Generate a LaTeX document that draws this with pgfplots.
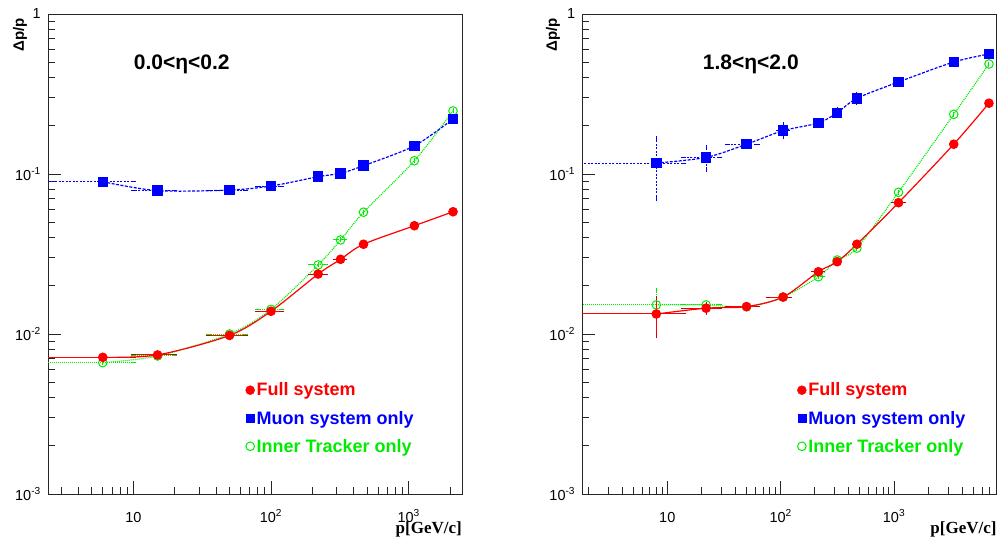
\documentclass[border=0pt]{standalone}
\usepackage{fontspec}
\setmainfont{Liberation Sans}
\newfontfamily\serifbf{Liberation Serif}
\usepackage{pgfplots}
\pgfplotsset{compat=1.18}
\usepackage{pgfplotstable}

\definecolor{rred}{RGB}{255,0,0}
\definecolor{rblue}{RGB}{0,0,255}
\definecolor{rgreen}{RGB}{0,235,0}

% ---------------- left panel: 0.0<eta<0.2
\pgfplotstableread{
x y exm exp eym eyp
6 0.00715 4 4 0 0
15 0.0074 5 5 0 0
50 0.0098 15 15 0 0
100 0.01387 20 20 0 0
220 0.0237 27 27 0 0
320 0.0293 24 24 0 0
470 0.0364 0 0 0 0
1100 0.0475 0 0 0 0
2100 0.0581 0 0 0 0
}\Lred
\pgfplotstableread{
x y exm exp eym eyp
6 0.00662 4 4 0 0
15 0.00729 5 5 0 0
50 0.0100 15 15 0 0
100 0.01425 20 20 0 0
220 0.027 27 27 0 0
320 0.0387 24 24 0 0
470 0.0577 0 0 0 0
1100 0.121 0 0 0 0
2100 0.248 0 0 0 0
}\Lgreen
\pgfplotstableread{
x y exm exp eym eyp
6 0.0895 4 4 0 0
15 0.0787 5 5 0 0
50 0.0794 15 15 0 0
100 0.0841 20 20 0 0
220 0.0962 0 0 0 0
320 0.101 0 0 0 0
470 0.1127 0 0 0 0
1100 0.150 0 0 0 0
2100 0.221 0 0 0 0
}\Lblue
% ---------------- right panel: 1.8<eta<2.0
\pgfplotstableread{
x y exm exp eym eyp
8 0.01334 6.5 6 0.0036 0.0034
22 0.0145 8 7 0.0008 0.0008
50 0.01483 16 13 0 0
105 0.01702 27 15 0 0
215 0.0245 20 20 0 0
315 0.0283 0 0 0 0
470 0.0364 0 0 0 0
1095 0.0662 115 120 0 0
3360 0.1535 0 0 0 0
6870 0.277 0 0 0 0
}\Rred
\pgfplotstableread{
x y exm exp eym eyp
8 0.0152 6.5 6 0.0038 0.0036
22 0.0152 8 7 0 0
50 0.0148 16 13 0 0
105 0.0170 27 15 0 0
215 0.0228 20 20 0 0
315 0.029 0 0 0 0
470 0.0344 0 0 0 0
1095 0.0769 0 0 0 0
3360 0.236 0 0 0 0
6870 0.487 0 0 0 0
}\Rgreen
\pgfplotstableread{
x y exm exp eym eyp
8 0.117 6.5 6 0.047 0.05
22 0.127 8 7 0.02 0.019
50 0.1535 16 13 0 0
105 0.1866 10 10 0.016 0.016
215 0.2084 0 0 0 0
315 0.2415 0 0 0.01 0.01
470 0.297 0 0 0.018 0.018
1095 0.376 0 0 0 0
3360 0.501 0 0 0 0
6870 0.562 0 0 0 0
}\Rblue

\begin{document}
\begin{tikzpicture}
\path[use as bounding box] (0pt,0pt) rectangle (1000pt,538pt);

\begin{axis}[at={(48pt,44pt)}, anchor=south west,
  xmode=log, ymode=log, scale only axis, width=414pt, height=480pt,
  xmin=2.4, xmax=2440, ymin=1e-3, ymax=1,
  axis line style={black!85, line width=1pt},
  tick align=inside, tick pos=left,
  major tick length=13pt, minor tick length=7pt,
  every tick/.style={black!85, line width=0.9pt},
  xtick={10,100,1000}, xticklabels={10,10\textsuperscript{2},10\textsuperscript{3}},
  minor xtick={2,3,4,5,6,7,8,9,20,30,40,50,60,70,80,90,200,300,400,500,600,700,800,900,2000,3000,4000,5000,6000,7000,8000,9000},
  ytick={0.001,0.01,0.1,1}, yticklabels={10\textsuperscript{-3},10\textsuperscript{-2},10\textsuperscript{-1},1},
  minor ytick={0.002,0.003,0.004,0.005,0.006,0.007,0.008,0.009,0.02,0.03,0.04,0.05,0.06,0.07,0.08,0.09,0.2,0.3,0.4,0.5,0.6,0.7,0.8,0.9},
  xticklabel style={font=\fontsize{14.5}{16}\selectfont, anchor=base, yshift=-28pt, inner sep=0pt},
  yticklabel style={font=\fontsize{14.5}{16}\selectfont, anchor=east, xshift=-7pt, inner sep=0pt},
  legend style={draw=none, fill=none, at={(0.477,0.236)}, anchor=north west,
    font=\fontsize{18}{21}\selectfont\bfseries, row sep=9.5pt, inner sep=0pt},
  legend cell align=left,
  error bars/x dir=both, error bars/x explicit, error bars/y dir=both, error bars/y explicit,
  ]
\addplot[forget plot, rgreen, line width=1.2pt, dash pattern=on 1pt off 1pt, smooth, mark=o, mark size=4.3pt, mark options={solid, line width=1pt},
  error bars/error bar style={rgreen, line width=1pt, dash pattern=on 1pt off 1pt},
  error bars/error mark options={rgreen, solid, line width=1pt, mark size=2.5pt}]
  table[x=x, y=y, x error minus=exm, x error plus=exp, y error minus=eym, y error plus=eyp] {\Lgreen};
\addplot[forget plot, rblue, line width=1.2pt, dash pattern=on 3pt off 1.5pt, smooth, mark=square*, mark size=4.6pt, mark options={solid, fill=rblue},
  error bars/error bar style={rblue, line width=1pt, dash pattern=on 2pt off 1.5pt},
  error bars/error mark options={rblue, solid, line width=1pt, mark size=2.5pt}]
  table[x=x, y=y, x error minus=exm, x error plus=exp, y error minus=eym, y error plus=eyp] {\Lblue};
\addplot[forget plot, rred, line width=1.2pt, smooth, mark=*, mark size=4.2pt, mark options={solid, fill=rred},
  error bars/error bar style={rred, line width=1pt, solid},
  error bars/error mark options={rred!80!black, solid, line width=1pt, mark size=2.5pt}]
  table[x=x, y=y, x error minus=exm, x error plus=exp, y error minus=eym, y error plus=eyp] {\Lred};
\addlegendimage{only marks, mark=*, mark size=4.5pt, rred, fill=rred}
\addlegendentry{\textcolor{rred}{Full system}}
\addlegendimage{only marks, mark=square*, mark size=4pt, rblue, fill=rblue}
\addlegendentry{\textcolor{rblue}{Muon system only}}
\addlegendimage{only marks, mark=o, mark size=4.3pt, rgreen, line width=1pt}
\addlegendentry{\textcolor{rgreen}{Inner Tracker only}}
\end{axis}

\begin{axis}[at={(582.3pt,44pt)}, anchor=south west,
  xmode=log, ymode=log, scale only axis, width=414pt, height=480pt,
  xmin=1.78, xmax=7980, ymin=1e-3, ymax=1,
  axis line style={black!85, line width=1pt},
  tick align=inside, tick pos=left,
  major tick length=13pt, minor tick length=7pt,
  every tick/.style={black!85, line width=0.9pt},
  xtick={10,100,1000}, xticklabels={10,10\textsuperscript{2},10\textsuperscript{3}},
  minor xtick={2,3,4,5,6,7,8,9,20,30,40,50,60,70,80,90,200,300,400,500,600,700,800,900,2000,3000,4000,5000,6000,7000,8000,9000},
  ytick={0.001,0.01,0.1,1}, yticklabels={10\textsuperscript{-3},10\textsuperscript{-2},10\textsuperscript{-1},1},
  minor ytick={0.002,0.003,0.004,0.005,0.006,0.007,0.008,0.009,0.02,0.03,0.04,0.05,0.06,0.07,0.08,0.09,0.2,0.3,0.4,0.5,0.6,0.7,0.8,0.9},
  xticklabel style={font=\fontsize{14.5}{16}\selectfont, anchor=base, yshift=-28pt, inner sep=0pt},
  yticklabel style={font=\fontsize{14.5}{16}\selectfont, anchor=east, xshift=-7pt, inner sep=0pt},
  legend style={draw=none, fill=none, at={(0.519,0.236)}, anchor=north west,
    font=\fontsize{18}{21}\selectfont\bfseries, row sep=9.5pt, inner sep=0pt},
  legend cell align=left,
  error bars/x dir=both, error bars/x explicit, error bars/y dir=both, error bars/y explicit,
  ]
\addplot[forget plot, rgreen, line width=1.2pt, dash pattern=on 1pt off 1pt, smooth, mark=o, mark size=4.3pt, mark options={solid, line width=1pt},
  error bars/error bar style={rgreen, line width=1pt, dash pattern=on 1pt off 1pt},
  error bars/error mark options={rgreen, solid, line width=1pt, mark size=2.5pt}]
  table[x=x, y=y, x error minus=exm, x error plus=exp, y error minus=eym, y error plus=eyp] {\Rgreen};
\addplot[forget plot, rblue, line width=1.2pt, dash pattern=on 3pt off 1.5pt, smooth, mark=square*, mark size=4.6pt, mark options={solid, fill=rblue},
  error bars/error bar style={rblue, line width=1pt, dash pattern=on 2pt off 1.5pt},
  error bars/error mark options={rblue, solid, line width=1pt, mark size=2.5pt}]
  table[x=x, y=y, x error minus=exm, x error plus=exp, y error minus=eym, y error plus=eyp] {\Rblue};
\addplot[forget plot, rred, line width=1.2pt, smooth, mark=*, mark size=4.2pt, mark options={solid, fill=rred},
  error bars/error bar style={rred, line width=1pt, solid},
  error bars/error mark options={rred!80!black, solid, line width=1pt, mark size=2.5pt}]
  table[x=x, y=y, x error minus=exm, x error plus=exp, y error minus=eym, y error plus=eyp] {\Rred};
\addlegendimage{only marks, mark=*, mark size=4.5pt, rred, fill=rred}
\addlegendentry{\textcolor{rred}{Full system}}
\addlegendimage{only marks, mark=square*, mark size=4pt, rblue, fill=rblue}
\addlegendentry{\textcolor{rblue}{Muon system only}}
\addlegendimage{only marks, mark=o, mark size=4.3pt, rgreen, line width=1pt}
\addlegendentry{\textcolor{rgreen}{Inner Tracker only}}
\end{axis}

% axis titles and panel labels
\node[rotate=90, font=\fontsize{15}{17}\selectfont\bfseries] at (20pt,503pt) {Δp/p};
\node[rotate=90, font=\fontsize{15}{17}\selectfont\bfseries] at (553pt,503pt) {Δp/p};
\node[anchor=base east, font=\fontsize{17}{19}\selectfont\serifbf\bfseries, inner sep=0pt] at (462pt,4.6pt) {p[GeV/c]};
\node[anchor=base east, font=\fontsize{17}{19}\selectfont\serifbf\bfseries, inner sep=0pt] at (996.7pt,4.6pt) {p[GeV/c]};
\node[anchor=base, font=\fontsize{21}{23}\selectfont\bfseries, inner sep=0pt] at (181.7pt,468pt) {0.0<η<0.2};
\node[anchor=base, font=\fontsize{21}{23}\selectfont\bfseries, inner sep=0pt] at (750.8pt,468pt) {1.8<η<2.0};
\end{tikzpicture}
\end{document}
